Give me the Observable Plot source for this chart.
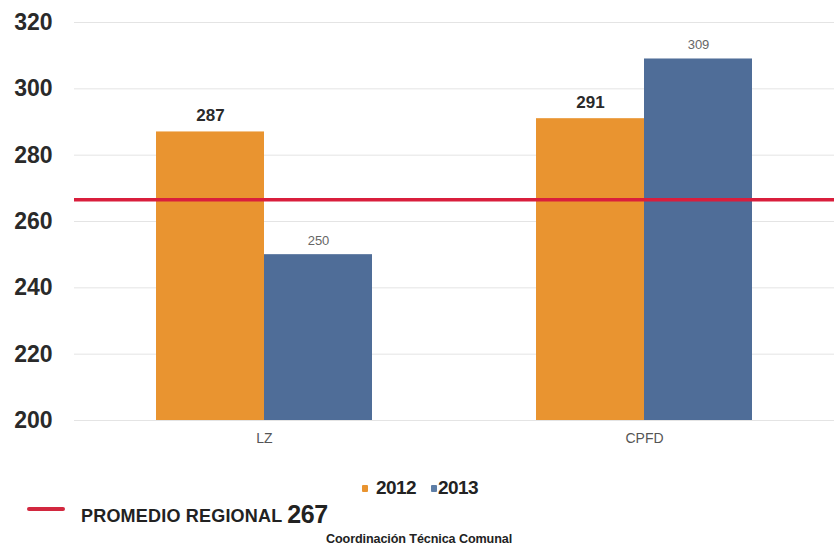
<!DOCTYPE html>
<html>
<head>
<meta charset="utf-8">
<script src="https://cdn.jsdelivr.net/npm/d3@7"></script>
<script src="https://cdn.jsdelivr.net/npm/@observablehq/plot@0.6"></script>
<style>
  html, body { margin: 0; padding: 0; background: #fff; }
  #wrap { position: relative; width: 834px; height: 553px; font-family: "Liberation Sans", Arial, sans-serif; }
  #chart svg { display: block; }
  g[aria-label="y-axis tick label"] text { font-size: 23px; font-weight: bold; fill: #2a2a2a; }
  g[aria-label="fx-axis tick label"] text { font-size: 14px; fill: #555; }
  .abs { position: absolute; white-space: nowrap; font-weight: bold; color: #222; }
  .sw { position: absolute; width: 6px; height: 7px; border-radius: 1px; }
</style>
</head>
<body>
<div id="wrap">
  <div id="chart"></div>
  <span class="sw" style="left:362px; top:485px; background:#E99430"></span>
  <span class="abs" style="left:376px; top:477px; font-size:19px; letter-spacing:-0.6px;">2012</span>
  <span class="sw" style="left:431px; top:485px; background:#5E7EA6"></span>
  <span class="abs" style="left:438px; top:477px; font-size:19px; letter-spacing:-0.6px;">2013</span>
  <span style="position:absolute; left:27px; top:507px; width:38px; height:4px; background:#D2283F; border-radius:2px;"></span>
  <span class="abs" style="left:81px; top:499px; font-size:18px; letter-spacing:0.2px;">PROMEDIO REGIONAL <span style="font-size:25px; letter-spacing:-0.4px; position:relative; top:1px;">267</span></span>
  <span class="abs" style="left:326px; top:532px; font-size:12px; letter-spacing:-0.1px; transform: scaleX(1.05); transform-origin:left;">Coordinación Técnica Comunal</span>
</div>
<script>
const categories = ["LZ", "CPFD"];
const years = ["2012", "2013"];
const values2012 = [287, 291];
const values2013 = [250, 309];
const promedioRegional = 267;
const yTicks = [200, 220, 240, 260, 280, 300, 320];
const colors = ["#E99430", "#4F6D98"];

const data = categories.flatMap((c, i) => [
  {cat: c, year: years[0], value: values2012[i]},
  {cat: c, year: years[1], value: values2013[i]}
]);

const chart = Plot.plot({
  width: 834,
  height: 455,
  marginLeft: 74,
  marginRight: 0,
  marginTop: 22,
  marginBottom: 35,
  style: {fontFamily: "Liberation Sans, Arial, sans-serif", background: "#fff"},
  fx: {domain: categories, padding: 0, label: null, axis: "bottom", tickSize: 0, tickPadding: 13},
  x: {domain: years, paddingInner: 0, paddingOuter: 0.751, axis: null},
  y: {domain: [200, 320], ticks: yTicks, label: null, tickSize: 0, tickPadding: 22},
  color: {domain: years, range: colors},
  marks: [
    Plot.gridY(yTicks, {stroke: "#e4e4e4", strokeOpacity: 1}),
    Plot.barY(data, {fx: "cat", x: "year", y1: 200, y2: "value", fill: "year"}),
    Plot.ruleY([promedioRegional], {stroke: "#D91E3C", strokeWidth: 3.5, dy: 1.5}),
    Plot.text(data.filter(d => d.year === years[0]), {fx: "cat", x: "year", y: "value", text: d => String(d.value), dy: -16, fontSize: 17, fontWeight: "bold", fill: "#2a2a2a"}),
    Plot.text(data.filter(d => d.year === years[1]), {fx: "cat", x: "year", y: "value", text: d => String(d.value), dy: -14, fontSize: 13, fill: "#666"})
  ]
});
document.getElementById("chart").appendChild(chart);
</script>
</body>
</html>
